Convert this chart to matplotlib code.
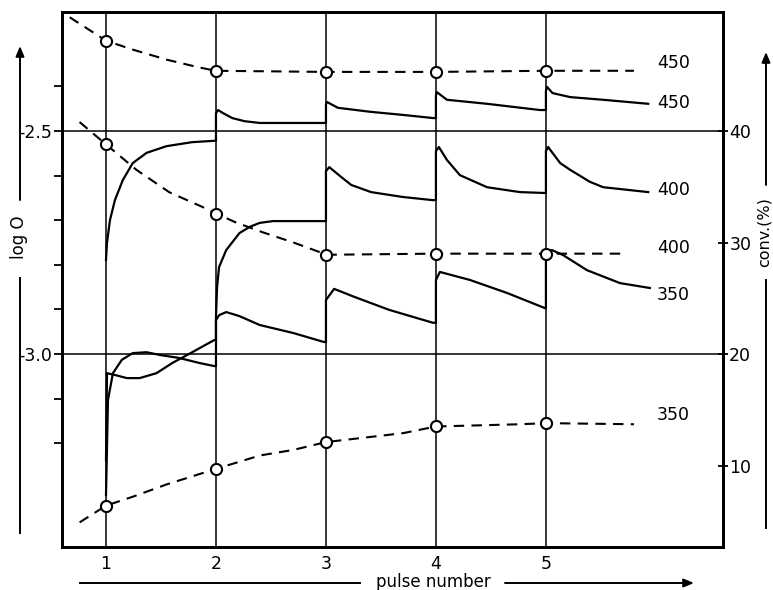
import matplotlib
matplotlib.use('Agg')
import matplotlib.pyplot as plt
import matplotlib.patches as mpatches
import numpy as np
from matplotlib.lines import Line2D
from matplotlib.ticker import FixedLocator, FixedFormatter

# ---------------- data ----------------
pulses = [1, 2, 3, 4, 5]
pulse_labels = ['1', '2', '3', '4', '5']
logO_ticks = [-2.4, -2.5, -2.6, -2.7, -2.8, -2.9, -3.0, -3.1, -3.2]
logO_ticklabels = ['', '-2.5', '', '', '', '', '-3.0', '', '']
logO_grid = [-2.5, -3.0]
conv_ticks = [10, 20, 30, 40]
conv_ticklabels = ['10', '20', '30', '40']

# solid curves: log O vs pulse number
s450_x = [1.0, 1.009, 1.036, 1.081, 1.153, 1.243, 1.369, 1.550, 1.784, 1.982, 2.0,
          2.0, 2.019, 2.065, 2.148, 2.259, 2.398, 3.0,
          3.0, 3.01, 3.108, 3.405, 3.703, 3.973, 4.0,
          4.0, 4.009, 4.10, 4.464, 4.945, 5.0,
          5.0, 5.01, 5.06, 5.22, 5.52, 5.93]
s450_y = [-2.789, -2.751, -2.700, -2.655, -2.610, -2.572, -2.549, -2.534, -2.525, -2.522, -2.522,
          -2.460, -2.453, -2.460, -2.471, -2.478, -2.482, -2.482,
          -2.440, -2.435, -2.448, -2.457, -2.464, -2.471, -2.471,
          -2.420, -2.413, -2.430, -2.439, -2.453, -2.453,
          -2.410, -2.401, -2.415, -2.424, -2.430, -2.439]

s400_x = [1.0, 1.018, 1.063, 1.144, 1.243, 1.369, 1.486, 1.667, 1.847, 1.982, 2.0,
          2.0, 2.01, 2.028, 2.093, 2.213, 2.306, 2.398, 2.519, 3.0,
          3.0, 3.03, 3.138, 3.23, 3.41, 3.70, 3.97, 4.0,
          4.0, 4.027, 4.10, 4.218, 4.464, 4.764, 4.99, 5.0,
          5.0, 5.02, 5.13, 5.22, 5.40, 5.52, 5.93]
s400_y = [-3.316, -3.103, -3.043, -3.013, -2.998, -2.996, -3.002, -3.009, -3.020, -3.027, -3.027,
          -2.917, -2.850, -2.805, -2.767, -2.729, -2.715, -2.706, -2.702, -2.702,
          -2.590, -2.581, -2.603, -2.621, -2.637, -2.648, -2.655, -2.655,
          -2.545, -2.536, -2.565, -2.599, -2.626, -2.637, -2.639, -2.639,
          -2.545, -2.536, -2.572, -2.587, -2.614, -2.626, -2.637]

s350_x = [1.0, 1.009, 1.081, 1.189, 1.306, 1.459, 1.604, 1.784, 1.982, 2.0,
          2.0, 2.028, 2.093, 2.213, 2.398, 2.704, 2.98, 3.0,
          3.0, 3.074, 3.259, 3.574, 3.973, 4.0,
          4.0, 4.036, 4.309, 4.645, 4.99, 5.0,
          5.0, 5.01, 5.055, 5.155, 5.373, 5.673, 5.945]
s350_y = [-3.238, -3.043, -3.047, -3.054, -3.054, -3.043, -3.020, -2.996, -2.969, -2.969,
          -2.924, -2.913, -2.906, -2.915, -2.935, -2.953, -2.973, -2.973,
          -2.879, -2.854, -2.872, -2.901, -2.930, -2.930,
          -2.834, -2.816, -2.834, -2.863, -2.897, -2.897,
          -2.785, -2.771, -2.767, -2.778, -2.812, -2.841, -2.852]

# dashed curves: conversion (%) vs pulse number
d450_x = [0.67, 1.0, 1.243, 1.55, 1.847, 2.0, 3.0, 4.0, 5.0, 5.8]
d450_y = [50.2, 48.1, 47.3, 46.4, 45.7, 45.4, 45.3, 45.3, 45.4, 45.4]
d400_x = [0.76, 1.0, 1.279, 1.577, 1.874, 2.0, 2.18, 2.43, 2.704, 2.954, 3.0, 4.0, 5.0, 5.74]
d400_y = [40.8, 38.8, 36.5, 34.5, 33.2, 32.6, 31.8, 30.9, 30.0, 29.1, 28.9, 29.0, 29.0, 29.0]
d350_x = [0.76, 1.0, 1.243, 1.55, 2.0, 2.4, 2.704, 3.0, 3.70, 4.0, 4.76, 5.0, 5.8]
d350_y = [4.9, 6.4, 7.2, 8.3, 9.7, 10.9, 11.4, 12.1, 12.9, 13.5, 13.7, 13.8, 13.7]

curve_labels = ['450', '450', '400', '400', '350', '350']

# ---------------- figure ----------------
W, H = 773, 590
fig = plt.figure(figsize=(W / 100, H / 100), dpi=100)
L, R, T, B = 62, 723, 12, 547
ax = fig.add_axes([L / W, 1 - B / H, (R - L) / W, (B - T) / H])
ylo, yhi = -3.4327, -2.2332
ax.set_xlim(0.6, 6.61)
ax.set_ylim(ylo, yhi)

def to_conv(l):
    return 40 + 40 * (l + 2.5)

ax2 = ax.twinx()
ax2.set_ylim(to_conv(ylo), to_conv(yhi))

for a in (ax, ax2):
    for sp in a.spines.values():
        sp.set_linewidth(2.0)

FS = 12.5
ax.xaxis.set_major_locator(FixedLocator(pulses))
ax.xaxis.set_major_formatter(FixedFormatter(pulse_labels))
ax.tick_params(axis='x', length=0, pad=6, labelsize=FS)
ax.yaxis.set_major_locator(FixedLocator(logO_ticks))
ax.yaxis.set_major_formatter(FixedFormatter(logO_ticklabels))
ax.tick_params(axis='y', direction='out', length=6, width=1.3, pad=1, labelsize=FS)
ax2.yaxis.set_major_locator(FixedLocator(conv_ticks))
ax2.yaxis.set_major_formatter(FixedFormatter(conv_ticklabels))
ax2.tick_params(axis='y', direction='inout', length=7, width=1.3, pad=1, labelsize=FS)

for p in pulses:
    ax.axvline(p, color='black', lw=1.1, zorder=1)
for g in logO_grid:
    ax.axhline(g, color='black', lw=1.1, zorder=1)

for xs, ys in [(s450_x, s450_y), (s400_x, s400_y), (s350_x, s350_y)]:
    ax.plot(xs, ys, color='black', lw=1.6, solid_joinstyle='round', zorder=3)

for xs, ys in [(d450_x, d450_y), (d400_x, d400_y), (d350_x, d350_y)]:
    ax2.plot(xs, ys, color='black', lw=1.5, dashes=(5, 3.5), zorder=3)
    ax2.plot(pulses, np.interp(pulses, xs, ys), 'o', mfc='white', mec='black',
             ms=8, mew=1.5, zorder=4)

tx = 6.01
ax2.text(tx, 46.1, curve_labels[0], fontsize=FS, va='center', ha='left')
ax.text(tx, -2.437, curve_labels[1], fontsize=FS, va='center', ha='left')
ax.text(tx, -2.632, curve_labels[2], fontsize=FS, va='center', ha='left')
ax2.text(tx, 29.5, curve_labels[3], fontsize=FS, va='center', ha='left')
ax.text(tx, -2.868, curve_labels[4], fontsize=FS, va='center', ha='left')
ax2.text(tx, 14.5, curve_labels[5], fontsize=FS, va='center', ha='left')

# ---------------- outer axis titles with arrows ----------------
def fx(px):
    return px / W

def fy(py):
    return 1 - py / H

def fline(x0, y0, x1, y1):
    fig.add_artist(Line2D([fx(x0), fx(x1)], [fy(y0), fy(y1)], color='black',
                          lw=1.4, transform=fig.transFigure))

def farrow(x0, y0, x1, y1):
    fig.add_artist(mpatches.FancyArrowPatch(
        (fx(x0), fy(y0)), (fx(x1), fy(y1)), transform=fig.transFigure,
        arrowstyle='-|>,head_length=6,head_width=2.5', color='black', lw=1.4,
        shrinkA=0, shrinkB=0))

# left: log O
farrow(20, 200, 20, 46)
fline(20, 278, 20, 533)
fig.text(fx(19), fy(237), 'log O', rotation=90, ha='center', va='center', fontsize=12)
# right: conv.(%)
farrow(766, 185, 766, 52)
fline(766, 280, 766, 528)
fig.text(fx(764), fy(232), 'conv.(%)', rotation=90, ha='center', va='center', fontsize=11.5)
# bottom: pulse number
fline(80, 583, 360, 583)
farrow(505, 583, 694, 583)
fig.text(fx(433), fy(582), 'pulse number', ha='center', va='center', fontsize=12)

fig.savefig('out.png', dpi=100)
